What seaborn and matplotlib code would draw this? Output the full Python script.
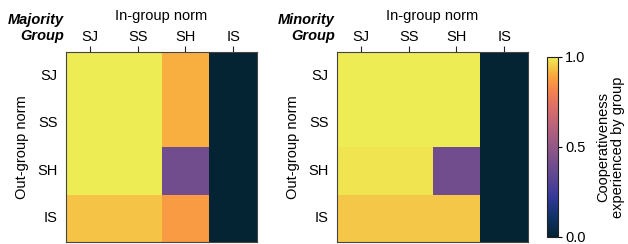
import numpy as np
import pandas as pd
import matplotlib
matplotlib.use("Agg")
import matplotlib.pyplot as plt
import seaborn as sns
from matplotlib.colors import LinearSegmentedColormap

# normes (ordre des lignes / colonnes)
normes = ["SJ", "SS", "SH", "IS"]

# coopération vécue : lignes = norme hors-groupe, colonnes = norme intra-groupe
majorite = [
    [1.00, 1.00, 0.91, 0.00],
    [1.00, 1.00, 0.91, 0.00],
    [1.00, 1.00, 0.40, 0.00],
    [0.94, 0.94, 0.87, 0.00],
]
minorite = [
    [1.00, 1.00, 1.00, 0.00],
    [1.00, 1.00, 1.00, 0.00],
    [0.985, 0.985, 0.40, 0.00],
    [0.945, 0.945, 0.945, 0.00],
]
titres = ["Majority\nGroup", "Minority\nGroup"]
cbar_ticks = [0.0, 0.5, 1.0]

# approximation de la palette "thermal" (cmocean)
thermal = LinearSegmentedColormap.from_list("thermal", [
    (0.00, (0.016, 0.137, 0.200)),
    (0.12, (0.070, 0.200, 0.420)),
    (0.22, (0.200, 0.220, 0.600)),
    (0.32, (0.350, 0.270, 0.580)),
    (0.42, (0.470, 0.310, 0.550)),
    (0.52, (0.600, 0.350, 0.520)),
    (0.62, (0.730, 0.390, 0.480)),
    (0.72, (0.860, 0.430, 0.410)),
    (0.82, (0.960, 0.520, 0.300)),
    (0.90, (0.980, 0.660, 0.240)),
    (1.00, (0.935, 0.925, 0.330)),
])

sns.set_style("white")
plt.rcParams["font.family"] = ["Liberation Sans", "DejaVu Sans"]
for k in ["text.color", "axes.labelcolor", "xtick.color", "ytick.color"]:
    plt.rcParams[k] = "black"
fs = 10.5

fig = plt.figure(figsize=(6.28, 2.44), dpi=100)
W, H = 628, 244
axes = [
    fig.add_axes([66 / W, 1 - 242 / H, 191 / W, 190 / H]),
    fig.add_axes([337 / W, 1 - 242 / H, 191 / W, 190 / H]),
]
cax = fig.add_axes([547 / W, 1 - 237 / H, 11 / W, 180 / H])

for i, (ax, vals, titre) in enumerate(zip(axes, [majorite, minorite], titres)):
    df = pd.DataFrame(vals, index=normes, columns=normes)
    sns.heatmap(df, ax=ax, cmap=thermal, vmin=0, vmax=1,
                cbar=(i == 1), cbar_ax=cax if i == 1 else None,
                square=False)
    ax.xaxis.tick_top()
    ax.xaxis.set_label_position("top")
    ax.set_xlabel("In-group norm", fontsize=fs, labelpad=7)
    ax.set_ylabel("Out-group norm", fontsize=fs, labelpad=6)
    ax.tick_params(axis="both", length=4, width=0.8, color="#222222",
                   labelsize=fs, pad=2)
    ax.tick_params(axis="x", rotation=0)
    ax.tick_params(axis="y", rotation=0)
    for s in ax.spines.values():
        s.set_visible(True)
        s.set_color("#444444")
        s.set_linewidth(0.8)
    ax.text(-0.01, 1.126, titre, transform=ax.transAxes, ha="right", va="center",
            fontsize=fs, fontweight="bold", fontstyle="italic", linespacing=1.2)

cb = axes[1].collections[0].colorbar
cb.set_ticks(cbar_ticks)
cb.set_ticklabels(["0.0", "0.5", "1.0"])
cb.ax.tick_params(labelsize=fs, length=3, width=0.8, pad=2)
cb.outline.set_edgecolor("#222222")
cb.outline.set_linewidth(0.8)
cb.set_label("Cooperativeness\nexperienced by group", fontsize=fs, labelpad=8,
             linespacing=1.05)

fig.savefig("out.png", dpi=100)
